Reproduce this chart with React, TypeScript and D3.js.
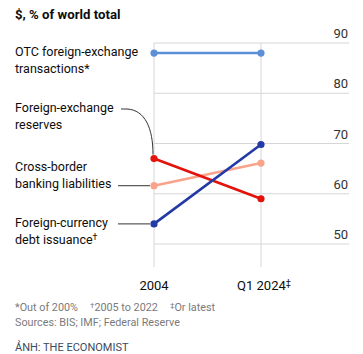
import React, { useRef, useEffect } from "react";
import * as d3 from "d3";

const periods = ["2004", "Q1 2024"];
const yTicks = [50, 60, 70, 80, 90];

const otcTransactions = [88, 88];
const fxReserves = [67, 59];
const crossBorderLiabilities = [61.6, 66.1];
const debtIssuance = [54, 69.8];

const footnotes = ["*Out of 200%", "†2005 to 2022", "‡Or latest"];
const sourceText = "Sources: BIS; IMF; Federal Reserve";

const App: React.FC = () => {
  const ref = useRef<SVGSVGElement | null>(null);

  useEffect(() => {
    if (!ref.current) return;
    const width = 363;
    const height = 354;
    const font = "Roboto, 'Noto Sans', sans-serif";

    const svg = d3.select(ref.current);
    svg.selectAll("*").remove();

    const x = d3.scalePoint<string>().domain(periods).range([154, 261]);
    const y = d3.scaleLinear().domain([50, 90]).range([244, 43]);
    const gridRight = 349;

    // title
    svg
      .append("text")
      .attr("x", 15)
      .attr("y", 19)
      .attr("font-family", font)
      .attr("font-size", 13.2)
      .attr("font-weight", 700)
      .attr("fill", "#0d0d0d")
      .text("$, % of world total");

    // horizontal grid + tick labels
    yTicks.forEach((t) => {
      svg
        .append("line")
        .attr("x1", x(periods[0])!)
        .attr("x2", gridRight)
        .attr("y1", y(t))
        .attr("y2", y(t))
        .attr("stroke", "#d6d6d6")
        .attr("stroke-width", 1);
      svg
        .append("text")
        .attr("x", gridRight - 1)
        .attr("y", y(t) - 5)
        .attr("text-anchor", "end")
        .attr("font-family", font)
        .attr("font-size", 13)
        .attr("fill", "#333")
        .text(t);
    });

    // vertical lines + x labels
    periods.forEach((p) => {
      svg
        .append("line")
        .attr("x1", x(p)!)
        .attr("x2", x(p)!)
        .attr("y1", y(90))
        .attr("y2", 267)
        .attr("stroke", "#d6d6d6")
        .attr("stroke-width", 1);
    });

    const xLabelY = 290;
    svg
      .append("text")
      .attr("x", x(periods[0])!)
      .attr("y", xLabelY)
      .attr("text-anchor", "middle")
      .attr("font-family", font)
      .attr("font-size", 13)
      .attr("fill", "#0d0d0d")
      .text(periods[0]);
    const q = svg
      .append("text")
      .attr("x", x(periods[1])! + 3)
      .attr("y", xLabelY)
      .attr("text-anchor", "middle")
      .attr("font-family", font)
      .attr("font-size", 13)
      .attr("fill", "#0d0d0d");
    q.append("tspan").text(periods[1]);
    q.append("tspan").attr("font-size", 9).attr("dy", -4).text("‡");

    // series
    const series = [
      { values: otcTransactions, color: "#5b8fd8" },
      { values: crossBorderLiabilities, color: "#f9a38b" },
      { values: fxReserves, color: "#e3120b" },
      { values: debtIssuance, color: "#2339a6" },
    ];

    const line = d3
      .line<number>()
      .x((_, i) => x(periods[i])!)
      .y((d) => y(d));

    // connectors
    const connColor = "#333";
    svg
      .append("path")
      .attr(
        "d",
        `M121,109 L127,109 C145,110 ${x(periods[0])! - 1},128 ${x(periods[0])! - 1},${y(fxReserves[0]) - 4}`
      )
      .attr("fill", "none")
      .attr("stroke", connColor)
      .attr("stroke-width", 1);
    svg
      .append("line")
      .attr("x1", 118)
      .attr("x2", x(periods[0])! - 4)
      .attr("y1", y(crossBorderLiabilities[0]))
      .attr("y2", y(crossBorderLiabilities[0]))
      .attr("stroke", connColor)
      .attr("stroke-width", 1);
    svg
      .append("line")
      .attr("x1", 118)
      .attr("x2", x(periods[0])! - 4)
      .attr("y1", y(debtIssuance[0]))
      .attr("y2", y(debtIssuance[0]))
      .attr("stroke", connColor)
      .attr("stroke-width", 1);

    series.forEach((s) => {
      svg
        .append("path")
        .attr("d", line(s.values)!)
        .attr("fill", "none")
        .attr("stroke", s.color)
        .attr("stroke-width", 2.6);
      s.values.forEach((v, i) => {
        svg
          .append("circle")
          .attr("cx", x(periods[i])!)
          .attr("cy", y(v))
          .attr("r", 3.6)
          .attr("fill", s.color);
      });
    });

    // series labels
    const labelLines: { lines: string[]; sup?: string; y: number }[] = [
      { lines: ["OTC foreign-exchange", "transactions"], sup: "*", y: 56 },
      { lines: ["Foreign-exchange", "reserves"], y: 112 },
      { lines: ["Cross-border", "banking liabilities"], y: 171 },
      { lines: ["Foreign-currency", "debt issuance"], sup: "†", y: 227 },
    ];
    labelLines.forEach((l) => {
      l.lines.forEach((txt, i) => {
        const t = svg
          .append("text")
          .attr("x", 15)
          .attr("y", l.y + i * 17)
          .attr("font-family", font)
          .attr("font-size", 12.5)
          .attr("fill", "#0d0d0d");
        t.append("tspan").text(txt);
        if (l.sup && i === l.lines.length - 1) {
          t.append("tspan")
            .attr("font-size", l.sup === "*" ? 12.5 : 9)
            .attr("dy", l.sup === "*" ? 0 : -4)
            .text(l.sup);
        }
      });
    });

    // footnotes
    const fn = svg
      .append("text")
      .attr("x", 15)
      .attr("y", 311)
      .attr("font-family", font)
      .attr("font-size", 10.8)
      .attr("fill", "#7a7a7a");
    footnotes.forEach((f, i) => {
      const sym = f[0];
      const rest = f.slice(1);
      const sp = fn.append("tspan");
      if (i > 0) sp.attr("dx", 12);
      if (sym === "*") {
        sp.text(f);
      } else {
        sp.attr("font-size", 8).attr("dy", -3).text(sym);
        fn.append("tspan").attr("dy", 3).text(rest);
      }
    });

    svg
      .append("text")
      .attr("x", 15)
      .attr("y", 326)
      .attr("font-family", font)
      .attr("font-size", 10.8)
      .attr("fill", "#7a7a7a")
      .text(sourceText);

    svg
      .append("text")
      .attr("x", 15)
      .attr("y", 351)
      .attr("font-family", font)
      .attr("font-size", 11)
      .attr("fill", "#3b4a5e")
      .text("ẢNH: THE ECONOMIST");

    svg.attr("width", width).attr("height", height);
  }, []);

  return (
    <div style={{ position: "absolute", left: 0, top: 0 }}>
      <svg ref={ref} width={363} height={354} style={{ display: "block", background: "#fff" }} />
    </div>
  );
};

export default App;
